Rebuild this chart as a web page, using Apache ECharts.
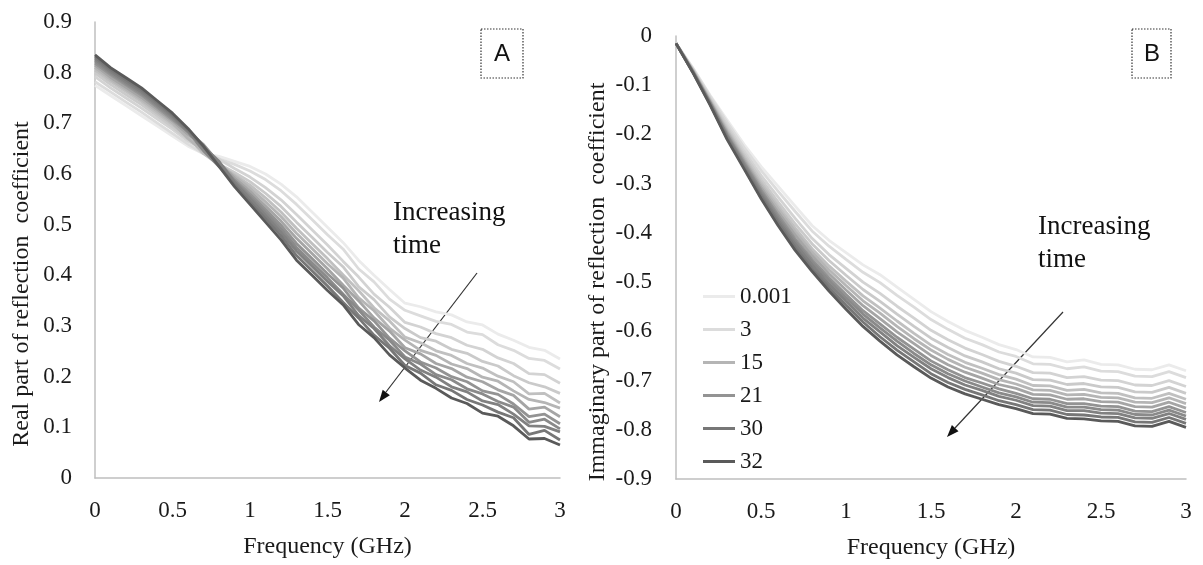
<!DOCTYPE html>
<html>
<head>
<meta charset="utf-8">
<script src="https://cdn.jsdelivr.net/npm/echarts@6/dist/echarts.min.js"></script>
<style>
html,body{margin:0;padding:0;background:#fff;}
#chart{width:1203px;height:565px;}
</style>
</head>
<body>
<div id="chart"></div>
<script>
// Frequency (GHz)
const freq = [0,0.1,0.2,0.3,0.4,0.5,0.6,0.7,0.8,0.9,1.0,1.1,1.2,1.3,1.4,1.5,1.6,1.7,1.8,1.9,2.0,2.1,2.2,2.3,2.4,2.5,2.6,2.7,2.8,2.9,3.0];
const timeLabels = ['0.001','3','6','9','12','15','18','21','24','27','30','32'];
const legendShown = ['0.001','3','15','21','30','32'];
const lineColors = ['#ebebeb','#dcdcdc','#d3d3d3','#cacaca','#c0c0c0','#b5b5b5','#a5a5a5','#939393','#8a8a8a','#818181','#777777','#5a5a5a'];

// Panel A: real part of reflection coefficient
const re_0_001 = [0.775,0.755,0.735,0.715,0.695,0.675,0.655,0.640,0.635,0.625,0.615,0.600,0.580,0.555,0.525,0.495,0.465,0.430,0.400,0.372,0.345,0.338,0.328,0.322,0.308,0.302,0.284,0.272,0.258,0.252,0.235];
const re_3 = [0.782,0.762,0.742,0.722,0.701,0.680,0.659,0.640,0.630,0.619,0.606,0.589,0.567,0.540,0.510,0.480,0.452,0.413,0.387,0.353,0.331,0.320,0.309,0.303,0.288,0.283,0.263,0.252,0.236,0.232,0.215];
const re_6 = [0.792,0.770,0.750,0.730,0.709,0.688,0.665,0.648,0.629,0.611,0.594,0.573,0.549,0.520,0.490,0.460,0.428,0.397,0.363,0.337,0.307,0.298,0.285,0.277,0.262,0.254,0.237,0.226,0.206,0.204,0.187];
const re_9 = [0.799,0.777,0.757,0.737,0.715,0.693,0.669,0.646,0.620,0.603,0.585,0.562,0.536,0.505,0.475,0.445,0.417,0.378,0.352,0.318,0.295,0.277,0.270,0.254,0.246,0.230,0.221,0.202,0.188,0.180,0.167];
const re_12 = [0.805,0.783,0.763,0.743,0.720,0.698,0.673,0.640,0.618,0.598,0.578,0.553,0.525,0.493,0.463,0.433,0.401,0.370,0.336,0.310,0.278,0.267,0.251,0.242,0.226,0.217,0.201,0.190,0.166,0.167,0.148];
const re_15 = [0.810,0.787,0.767,0.747,0.724,0.701,0.670,0.645,0.620,0.596,0.572,0.545,0.516,0.483,0.453,0.423,0.395,0.356,0.330,0.296,0.272,0.252,0.242,0.225,0.216,0.199,0.191,0.172,0.155,0.149,0.138];
const re_18 = [0.815,0.791,0.771,0.751,0.728,0.705,0.678,0.656,0.622,0.592,0.566,0.537,0.507,0.473,0.443,0.413,0.381,0.350,0.316,0.290,0.257,0.245,0.226,0.216,0.199,0.190,0.174,0.163,0.136,0.140,0.121];
const re_21 = [0.819,0.796,0.776,0.756,0.732,0.708,0.684,0.658,0.622,0.588,0.560,0.530,0.499,0.463,0.433,0.403,0.375,0.336,0.310,0.276,0.251,0.229,0.217,0.200,0.190,0.172,0.165,0.146,0.121,0.126,0.107];
const re_24 = [0.823,0.799,0.779,0.759,0.735,0.711,0.683,0.646,0.615,0.585,0.555,0.524,0.492,0.455,0.425,0.395,0.363,0.332,0.298,0.272,0.239,0.225,0.204,0.194,0.176,0.166,0.151,0.140,0.110,0.116,0.097];
const re_27 = [0.827,0.802,0.782,0.762,0.738,0.714,0.685,0.653,0.625,0.584,0.551,0.518,0.485,0.448,0.418,0.388,0.360,0.321,0.295,0.261,0.235,0.213,0.199,0.180,0.170,0.152,0.145,0.126,0.103,0.102,0.091];
const re_30 = [0.831,0.806,0.786,0.766,0.742,0.717,0.688,0.654,0.616,0.579,0.545,0.512,0.478,0.439,0.409,0.379,0.347,0.316,0.282,0.256,0.222,0.207,0.184,0.173,0.155,0.144,0.130,0.119,0.086,0.094,0.075];
const re_32 = [0.835,0.810,0.790,0.770,0.745,0.720,0.690,0.655,0.615,0.575,0.540,0.505,0.470,0.430,0.400,0.370,0.342,0.303,0.277,0.243,0.217,0.193,0.177,0.158,0.147,0.128,0.122,0.103,0.077,0.078,0.065];

// Panel B: imaginary part of reflection coefficient
const im_0_001 = [-0.015,-0.065,-0.120,-0.170,-0.220,-0.265,-0.305,-0.345,-0.385,-0.415,-0.440,-0.465,-0.485,-0.510,-0.535,-0.560,-0.580,-0.598,-0.612,-0.627,-0.637,-0.652,-0.653,-0.662,-0.658,-0.667,-0.668,-0.677,-0.678,-0.668,-0.680];
const im_3 = [-0.015,-0.066,-0.122,-0.175,-0.226,-0.273,-0.315,-0.356,-0.396,-0.427,-0.454,-0.480,-0.501,-0.527,-0.551,-0.576,-0.596,-0.614,-0.627,-0.642,-0.651,-0.666,-0.667,-0.676,-0.672,-0.681,-0.682,-0.691,-0.692,-0.682,-0.694];
const im_6 = [-0.015,-0.068,-0.126,-0.181,-0.234,-0.283,-0.327,-0.370,-0.411,-0.444,-0.472,-0.500,-0.523,-0.549,-0.573,-0.598,-0.617,-0.634,-0.647,-0.661,-0.671,-0.684,-0.685,-0.694,-0.692,-0.699,-0.700,-0.709,-0.710,-0.700,-0.712];
const im_9 = [-0.015,-0.069,-0.128,-0.186,-0.240,-0.291,-0.337,-0.381,-0.422,-0.456,-0.486,-0.515,-0.539,-0.565,-0.590,-0.614,-0.633,-0.650,-0.662,-0.676,-0.685,-0.698,-0.699,-0.708,-0.706,-0.713,-0.714,-0.723,-0.724,-0.714,-0.726];
const im_12 = [-0.015,-0.070,-0.130,-0.190,-0.245,-0.298,-0.345,-0.390,-0.432,-0.467,-0.498,-0.528,-0.553,-0.579,-0.604,-0.628,-0.647,-0.663,-0.675,-0.688,-0.697,-0.710,-0.711,-0.720,-0.718,-0.725,-0.726,-0.735,-0.736,-0.726,-0.738];
const im_15 = [-0.015,-0.071,-0.132,-0.193,-0.249,-0.303,-0.351,-0.397,-0.439,-0.475,-0.507,-0.538,-0.563,-0.590,-0.615,-0.638,-0.657,-0.673,-0.685,-0.698,-0.707,-0.719,-0.720,-0.729,-0.728,-0.734,-0.735,-0.744,-0.745,-0.735,-0.747];
const im_18 = [-0.015,-0.072,-0.133,-0.196,-0.253,-0.308,-0.358,-0.404,-0.446,-0.483,-0.516,-0.548,-0.574,-0.601,-0.625,-0.649,-0.668,-0.683,-0.695,-0.708,-0.716,-0.728,-0.729,-0.738,-0.737,-0.743,-0.744,-0.753,-0.754,-0.744,-0.756];
const im_21 = [-0.015,-0.072,-0.135,-0.200,-0.257,-0.313,-0.364,-0.412,-0.454,-0.491,-0.525,-0.558,-0.585,-0.612,-0.636,-0.660,-0.678,-0.694,-0.705,-0.717,-0.726,-0.737,-0.738,-0.747,-0.747,-0.752,-0.753,-0.762,-0.763,-0.753,-0.765];
const im_24 = [-0.015,-0.073,-0.136,-0.202,-0.260,-0.317,-0.369,-0.417,-0.459,-0.497,-0.532,-0.565,-0.593,-0.620,-0.645,-0.668,-0.686,-0.701,-0.713,-0.725,-0.733,-0.744,-0.745,-0.754,-0.754,-0.759,-0.760,-0.769,-0.770,-0.760,-0.772];
const im_27 = [-0.015,-0.074,-0.137,-0.204,-0.263,-0.321,-0.374,-0.422,-0.465,-0.504,-0.539,-0.573,-0.601,-0.629,-0.653,-0.676,-0.694,-0.709,-0.720,-0.732,-0.740,-0.751,-0.752,-0.761,-0.761,-0.766,-0.767,-0.776,-0.777,-0.767,-0.779];
const im_30 = [-0.015,-0.074,-0.139,-0.207,-0.267,-0.325,-0.379,-0.429,-0.472,-0.511,-0.547,-0.581,-0.611,-0.638,-0.662,-0.686,-0.704,-0.718,-0.729,-0.741,-0.749,-0.759,-0.760,-0.769,-0.770,-0.774,-0.775,-0.784,-0.785,-0.775,-0.787];
const im_32 = [-0.015,-0.075,-0.140,-0.210,-0.270,-0.330,-0.385,-0.435,-0.478,-0.518,-0.555,-0.590,-0.620,-0.648,-0.672,-0.695,-0.713,-0.727,-0.738,-0.749,-0.757,-0.767,-0.768,-0.777,-0.778,-0.782,-0.783,-0.792,-0.793,-0.783,-0.795];

const realSets = [re_0_001,re_3,re_6,re_9,re_12,re_15,re_18,re_21,re_24,re_27,re_30,re_32];
const imagSets = [im_0_001,im_3,im_6,im_9,im_12,im_15,im_18,im_21,im_24,im_27,im_30,im_32];

const FONT = 'Liberation Serif';
const TXT = '#1a1a1a';

function mkSeries(sets, gi) {
  return sets.map((vals, k) => ({
    name: timeLabels[k],
    type: 'line',
    xAxisIndex: gi, yAxisIndex: gi,
    showSymbol: false, symbol: 'none',
    lineStyle: { color: lineColors[k], width: 2.8 },
    itemStyle: { color: lineColors[k] },
    data: freq.map((f, i) => [f, vals[i]]),
    silent: true
  }));
}

function xAx(gi) {
  return {
    gridIndex: gi, type: 'value', min: 0, max: 3, interval: 0.5,
    axisLine: { show: true, onZero: false, lineStyle: { color: '#bfbfbf', width: 1.5 } },
    axisTick: { show: false }, splitLine: { show: false },
    axisLabel: { color: TXT, fontSize: 23, fontFamily: FONT, margin: 21 },
    name: 'Frequency (GHz)', nameLocation: 'middle', nameGap: 57,
    nameTextStyle: { color: TXT, fontSize: 24, fontFamily: FONT }
  };
}

const chart = echarts.init(document.getElementById('chart'), null, { renderer: 'canvas' });
const option = {
  animation: false,
  textStyle: { fontFamily: FONT },
  grid: [
    { left: 95, top: 22, width: 465, height: 456 },
    { left: 676, top: 36, width: 510, height: 446 }
  ],
  xAxis: [xAx(0), xAx(1)],
  yAxis: [
    {
      gridIndex: 0, type: 'value', min: 0, max: 0.9, interval: 0.1,
      axisLine: { show: true, onZero: false, lineStyle: { color: '#bfbfbf', width: 1.5 } },
      axisTick: { show: false }, splitLine: { show: false },
      axisLabel: { color: TXT, fontSize: 23, fontFamily: FONT, margin: 23 }
    },
    {
      gridIndex: 1, type: 'value', min: -0.9, max: 0, interval: 0.1,
      axisLine: { show: true, onZero: false, lineStyle: { color: '#bfbfbf', width: 1.5 } },
      axisTick: { show: false }, splitLine: { show: false },
      axisLabel: { color: TXT, fontSize: 23, fontFamily: FONT, margin: 24,
        formatter: v => (Math.round(v * 10) / 10).toString() }
    }
  ],
  legend: {
    data: legendShown,
    orient: 'vertical', left: 698, top: 280,
    padding: 5,
    icon: 'rect',
    itemWidth: 32, itemHeight: 3, itemGap: 10,
    selectedMode: false,
    textStyle: { color: TXT, fontSize: 23, fontFamily: FONT }
  },
  series: mkSeries(realSets, 0).concat(mkSeries(imagSets, 1)),
  graphic: [
    { type: 'text', x: 22, y: 284, rotation: Math.PI / 2,
      style: { text: 'Real part of reflection  coefficient', font: '24px "Liberation Serif"', fill: TXT, align: 'center', verticalAlign: 'middle' } },
    { type: 'text', x: 598, y: 282, rotation: Math.PI / 2,
      style: { text: 'Immaginary part of reflection  coefficient', font: '24px "Liberation Serif"', fill: TXT, align: 'center', verticalAlign: 'middle' } },
    { type: 'rect', shape: { x: 481, y: 29, width: 42, height: 49 },
      style: { fill: 'none', stroke: '#333', lineWidth: 1.2, lineDash: [1.5, 1.5] } },
    { type: 'text', x: 502, y: 54, style: { text: 'A', font: '24px "Liberation Sans"', fill: '#111', align: 'center', verticalAlign: 'middle' } },
    { type: 'rect', shape: { x: 1132, y: 29, width: 39, height: 49 },
      style: { fill: 'none', stroke: '#333', lineWidth: 1.2, lineDash: [1.5, 1.5] } },
    { type: 'text', x: 1152, y: 54, style: { text: 'B', font: '24px "Liberation Sans"', fill: '#111', align: 'center', verticalAlign: 'middle' } },
    { type: 'text', x: 393, y: 196, style: { text: 'Increasing\ntime', font: '27px "Liberation Serif"', lineHeight: 33, fill: '#111' } },
    { type: 'text', x: 1038, y: 210, style: { text: 'Increasing\ntime', font: '27px "Liberation Serif"', lineHeight: 33, fill: '#111' } },
    { type: 'line', shape: { x1: 477, y1: 273, x2: 386, y2: 392 }, style: { stroke: '#333', lineWidth: 1.2 } },
    { type: 'polygon', shape: { points: [[379, 402], [389.9, 395.2], [382.7, 389.7]] }, style: { fill: '#111' } },
    { type: 'line', shape: { x1: 1063, y1: 312, x2: 955, y2: 428 }, style: { stroke: '#333', lineWidth: 1.2 } },
    { type: 'polygon', shape: { points: [[947, 437], [958.5, 431.3], [951.9, 425.1]] }, style: { fill: '#111' } }
  ]
};
chart.setOption(option);
</script>
</body>
</html>
